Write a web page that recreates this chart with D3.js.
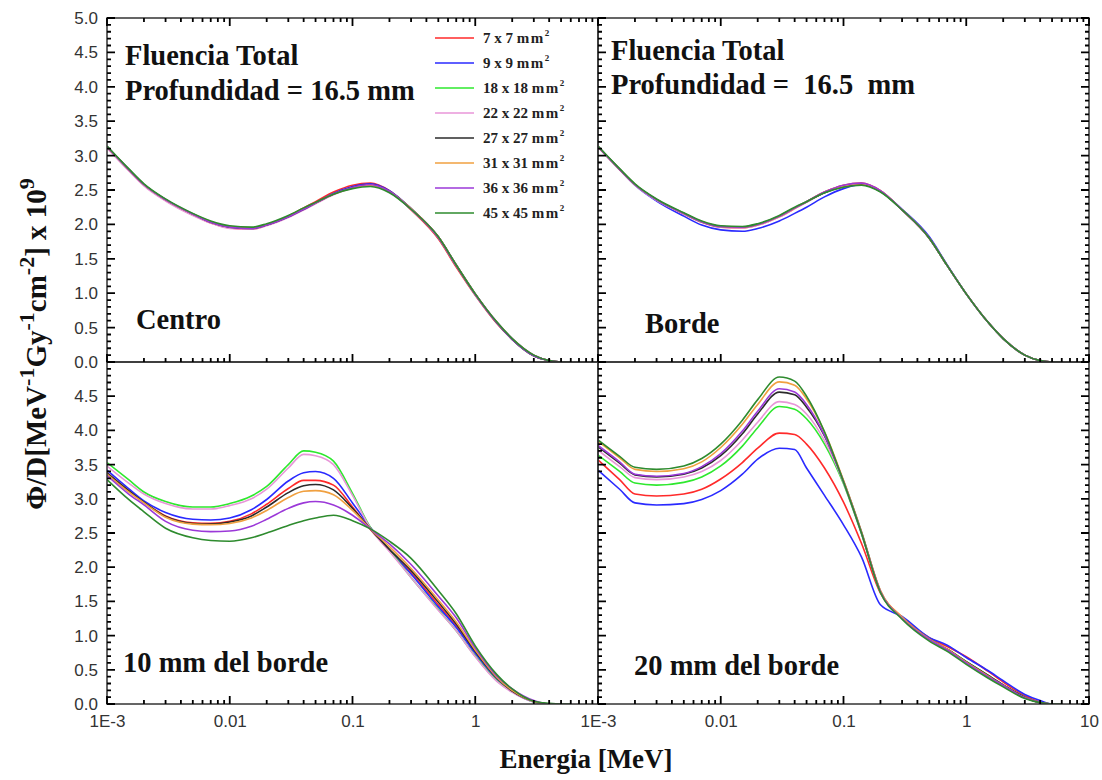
<!DOCTYPE html>
<html>
<head>
<meta charset="utf-8">
<script src="https://cdn.jsdelivr.net/npm/d3@7"></script>
<style>
  body { margin: 0; background: #fff; }
  svg { display: block; }
</style>
</head>
<body>
<div id="chart"></div>
<script>
var energy = [0.001, 0.0015, 0.002, 0.003, 0.005, 0.007, 0.01, 0.015, 0.02, 0.03, 0.04, 0.05, 0.07, 0.1, 0.14, 0.2, 0.3, 0.5, 0.7, 1, 1.5, 2, 3, 4, 5, 6];

var fieldSizes = ["7 x 7", "9 x 9", "18 x 18", "22 x 22", "27 x 27", "31 x 31", "36 x 36", "45 x 45"];
var colors = ["#ff2a2a", "#2a2aff", "#2ee82e", "#e896d8", "#2b2b2b", "#f0a040", "#9b38d8", "#2e8b2e"];

// Centro (arriba izquierda)
var centro = [
  [3.12, 2.79, 2.57, 2.35, 2.14, 2.02, 1.95, 1.93, 1.99, 2.12, 2.24, 2.33, 2.47, 2.57, 2.60, 2.49, 2.21, 1.79, 1.38, 0.97, 0.56, 0.33, 0.09, 0.02, 0, 0],
  [3.13, 2.80, 2.58, 2.36, 2.15, 2.03, 1.96, 1.94, 1.99, 2.11, 2.22, 2.31, 2.45, 2.55, 2.59, 2.49, 2.23, 1.82, 1.41, 0.99, 0.58, 0.34, 0.10, 0.02, 0, 0],
  [3.13, 2.80, 2.58, 2.36, 2.15, 2.04, 1.97, 1.95, 2.00, 2.12, 2.23, 2.31, 2.44, 2.53, 2.57, 2.47, 2.22, 1.81, 1.40, 0.98, 0.57, 0.33, 0.09, 0.02, 0, 0],
  [3.11, 2.78, 2.56, 2.34, 2.13, 2.02, 1.94, 1.93, 1.98, 2.10, 2.21, 2.30, 2.43, 2.53, 2.57, 2.47, 2.22, 1.81, 1.40, 0.98, 0.57, 0.33, 0.09, 0.02, 0, 0],
  [3.13, 2.80, 2.58, 2.36, 2.15, 2.03, 1.96, 1.94, 1.99, 2.11, 2.22, 2.31, 2.44, 2.54, 2.58, 2.48, 2.23, 1.82, 1.41, 0.99, 0.57, 0.33, 0.09, 0.02, 0, 0],
  [3.13, 2.80, 2.58, 2.36, 2.15, 2.04, 1.97, 1.95, 2.00, 2.12, 2.23, 2.31, 2.44, 2.53, 2.57, 2.48, 2.23, 1.82, 1.41, 0.99, 0.58, 0.34, 0.10, 0.02, 0, 0],
  [3.13, 2.80, 2.58, 2.36, 2.15, 2.03, 1.96, 1.94, 1.99, 2.11, 2.22, 2.31, 2.44, 2.54, 2.58, 2.48, 2.22, 1.81, 1.40, 0.98, 0.57, 0.33, 0.09, 0.02, 0, 0],
  [3.14, 2.81, 2.59, 2.37, 2.16, 2.05, 1.98, 1.96, 2.01, 2.13, 2.24, 2.32, 2.44, 2.52, 2.55, 2.46, 2.22, 1.82, 1.41, 0.99, 0.58, 0.34, 0.10, 0.02, 0, 0]
];

// Borde (arriba derecha)
var borde = [
  [3.13, 2.80, 2.58, 2.36, 2.15, 2.03, 1.96, 1.95, 1.99, 2.11, 2.23, 2.33, 2.47, 2.57, 2.60, 2.49, 2.21, 1.80, 1.40, 0.99, 0.58, 0.34, 0.10, 0.02, 0, 0],
  [3.13, 2.80, 2.57, 2.34, 2.12, 1.99, 1.92, 1.90, 1.94, 2.05, 2.16, 2.25, 2.40, 2.52, 2.58, 2.48, 2.22, 1.82, 1.41, 0.99, 0.58, 0.34, 0.10, 0.02, 0, 0],
  [3.13, 2.80, 2.58, 2.36, 2.16, 2.04, 1.97, 1.96, 2.00, 2.12, 2.24, 2.33, 2.46, 2.55, 2.58, 2.48, 2.21, 1.80, 1.40, 0.99, 0.58, 0.34, 0.10, 0.02, 0, 0],
  [3.12, 2.79, 2.57, 2.35, 2.15, 2.03, 1.96, 1.95, 1.99, 2.11, 2.23, 2.32, 2.46, 2.55, 2.58, 2.48, 2.21, 1.80, 1.40, 0.99, 0.58, 0.34, 0.10, 0.02, 0, 0],
  [3.13, 2.80, 2.58, 2.36, 2.16, 2.04, 1.97, 1.96, 2.00, 2.12, 2.24, 2.33, 2.46, 2.55, 2.58, 2.48, 2.21, 1.80, 1.40, 0.99, 0.58, 0.34, 0.10, 0.02, 0, 0],
  [3.13, 2.80, 2.58, 2.36, 2.16, 2.04, 1.97, 1.96, 2.00, 2.12, 2.24, 2.33, 2.47, 2.56, 2.59, 2.49, 2.21, 1.80, 1.40, 0.99, 0.58, 0.34, 0.10, 0.02, 0, 0],
  [3.13, 2.80, 2.58, 2.36, 2.16, 2.04, 1.97, 1.96, 2.00, 2.12, 2.24, 2.33, 2.47, 2.57, 2.60, 2.49, 2.21, 1.80, 1.40, 0.99, 0.58, 0.34, 0.10, 0.02, 0, 0],
  [3.14, 2.81, 2.59, 2.37, 2.17, 2.05, 1.98, 1.97, 2.01, 2.13, 2.25, 2.33, 2.46, 2.54, 2.57, 2.47, 2.21, 1.80, 1.40, 0.99, 0.58, 0.34, 0.10, 0.02, 0, 0]
];

// 10 mm del borde (abajo izquierda)
var borde10 = [
  [3.38, 3.12, 2.95, 2.75, 2.65, 2.64, 2.67, 2.78, 2.92, 3.15, 3.27, 3.27, 3.20, 2.88, 2.55, 2.24, 1.92, 1.45, 1.14, 0.75, 0.37, 0.19, 0.04, 0, 0, 0],
  [3.42, 3.15, 2.97, 2.80, 2.70, 2.69, 2.72, 2.84, 2.99, 3.26, 3.38, 3.40, 3.30, 2.94, 2.58, 2.25, 1.90, 1.42, 1.12, 0.74, 0.36, 0.18, 0.03, 0, 0, 0],
  [3.53, 3.28, 3.10, 2.96, 2.88, 2.88, 2.93, 3.04, 3.18, 3.50, 3.70, 3.68, 3.55, 3.08, 2.58, 2.25, 1.85, 1.38, 1.07, 0.70, 0.34, 0.18, 0.03, 0, 0, 0],
  [3.48, 3.23, 3.07, 2.93, 2.85, 2.85, 2.90, 3.00, 3.14, 3.45, 3.65, 3.63, 3.50, 3.05, 2.57, 2.23, 1.85, 1.37, 1.07, 0.69, 0.33, 0.17, 0.03, 0, 0, 0],
  [3.38, 3.12, 2.95, 2.74, 2.64, 2.63, 2.66, 2.75, 2.88, 3.09, 3.19, 3.21, 3.13, 2.86, 2.56, 2.26, 1.95, 1.49, 1.17, 0.77, 0.38, 0.19, 0.04, 0, 0, 0],
  [3.36, 3.10, 2.94, 2.73, 2.63, 2.62, 2.64, 2.72, 2.83, 3.02, 3.11, 3.12, 3.06, 2.83, 2.56, 2.30, 1.98, 1.52, 1.20, 0.79, 0.39, 0.20, 0.04, 0, 0, 0],
  [3.34, 3.07, 2.91, 2.67, 2.54, 2.52, 2.53, 2.60, 2.70, 2.86, 2.94, 2.96, 2.91, 2.76, 2.56, 2.34, 2.04, 1.58, 1.26, 0.82, 0.41, 0.22, 0.05, 0, 0, 0],
  [3.28, 2.99, 2.81, 2.57, 2.43, 2.39, 2.38, 2.43, 2.50, 2.61, 2.68, 2.72, 2.76, 2.68, 2.56, 2.38, 2.13, 1.66, 1.32, 0.85, 0.43, 0.22, 0.04, 0.01, 0, 0]
];

// 20 mm del borde (abajo derecha)
var borde20 = [
  [3.57, 3.28, 3.07, 3.04, 3.07, 3.14, 3.29, 3.53, 3.74, 3.96, 3.94, 3.80, 3.45, 2.95, 2.35, 1.62, 1.27, 0.97, 0.84, 0.69, 0.48, 0.32, 0.12, 0.03, 0, 0],
  [3.42, 3.14, 2.94, 2.91, 2.93, 2.99, 3.12, 3.36, 3.58, 3.74, 3.72, 3.45, 3.05, 2.62, 2.15, 1.45, 1.28, 0.97, 0.86, 0.68, 0.49, 0.34, 0.14, 0.05, 0, 0],
  [3.64, 3.40, 3.23, 3.20, 3.24, 3.32, 3.48, 3.77, 4.04, 4.35, 4.31, 4.17, 3.80, 3.22, 2.49, 1.64, 1.25, 0.94, 0.80, 0.62, 0.42, 0.28, 0.10, 0.02, 0, 0],
  [3.71, 3.47, 3.31, 3.28, 3.32, 3.40, 3.56, 3.86, 4.12, 4.42, 4.38, 4.24, 3.85, 3.24, 2.50, 1.64, 1.25, 0.94, 0.79, 0.61, 0.41, 0.28, 0.10, 0.02, 0, 0],
  [3.76, 3.52, 3.35, 3.32, 3.36, 3.45, 3.63, 3.95, 4.24, 4.56, 4.52, 4.34, 3.92, 3.26, 2.52, 1.65, 1.26, 0.95, 0.80, 0.62, 0.42, 0.28, 0.10, 0.02, 0, 0],
  [3.84, 3.60, 3.43, 3.40, 3.44, 3.54, 3.75, 4.09, 4.38, 4.71, 4.66, 4.46, 3.98, 3.27, 2.52, 1.66, 1.27, 0.95, 0.80, 0.61, 0.41, 0.27, 0.09, 0.02, 0, 0],
  [3.78, 3.54, 3.36, 3.33, 3.37, 3.47, 3.66, 3.99, 4.28, 4.61, 4.56, 4.38, 3.93, 3.25, 2.50, 1.64, 1.25, 0.94, 0.79, 0.60, 0.40, 0.27, 0.09, 0.02, 0, 0],
  [3.86, 3.62, 3.46, 3.43, 3.48, 3.59, 3.80, 4.15, 4.45, 4.78, 4.72, 4.50, 3.98, 3.25, 2.50, 1.63, 1.24, 0.92, 0.77, 0.58, 0.38, 0.25, 0.08, 0.02, 0, 0]
];

var xMajor = [0.001, 0.01, 0.1, 1, 10];
var xTickLabels = ["1E-3", "0.01", "0.1", "1", "10"];
var yMajor = [0, 0.5, 1, 1.5, 2, 2.5, 3, 3.5, 4, 4.5, 5];

var W = 1102, H = 780;
var x0 = 107, xMid = 598, x1 = 1089;
var y0 = 18, yMid = 362, y1 = 704;

var svg = d3.select("#chart").append("svg")
  .attr("width", W)
  .attr("height", H);

var xL = d3.scaleLog().domain([1e-3, 10]).range([x0, xMid]);
var xR = d3.scaleLog().domain([1e-3, 10]).range([xMid, x1]);
var yT = d3.scaleLinear().domain([0, 5]).range([yMid, y0]);
var yB = d3.scaleLinear().domain([0, 5]).range([y1, yMid]);

// ticks menores (2..9 por decada, cada 0.1 en y)
var xMinor = xL.ticks().filter(v => xMajor.indexOf(v) < 0);
var yMinor = d3.range(0, 50).map(i => i / 10).filter(v => Math.abs(v * 2 - Math.round(v * 2)) > 1e-6);

var panels = [
  {x: xL, y: yT, data: centro, l: x0, r: xMid, t: y0, b: yMid},
  {x: xR, y: yT, data: borde, l: xMid, r: x1, t: y0, b: yMid},
  {x: xL, y: yB, data: borde10, l: x0, r: xMid, t: yMid, b: y1},
  {x: xR, y: yB, data: borde20, l: xMid, r: x1, t: yMid, b: y1}
];

var defs = svg.append("defs");

panels.forEach(function(p, k) {
  defs.append("clipPath").attr("id", "clip" + k)
    .append("rect")
    .attr("x", p.l).attr("y", p.t)
    .attr("width", p.r - p.l).attr("height", p.b - p.t);

  var line = d3.line()
    .x((d, i) => p.x(energy[i]))
    .y(d => p.y(d))
    .curve(d3.curveMonotoneX);

  svg.append("g")
    .attr("clip-path", "url(#clip" + k + ")")
    .selectAll("path")
    .data(p.data)
    .enter()
    .append("path")
    .attr("d", line)
    .attr("fill", "none")
    .attr("stroke", (d, i) => colors[i])
    .attr("stroke-width", 1.6);
});

// marcos
panels.forEach(function(p) {
  svg.append("rect")
    .attr("x", p.l).attr("y", p.t)
    .attr("width", p.r - p.l).attr("height", p.b - p.t)
    .attr("fill", "none")
    .attr("stroke", "#333")
    .attr("stroke-width", 1.5);
});

// marcas de los ejes, hacia dentro
function vTicks(y, vals, x, dir, len) {
  svg.append("path")
    .attr("d", vals.map(v => "M" + x + "," + y(v) + "h" + (dir * len)).join(""))
    .attr("fill", "none")
    .attr("stroke", "#000")
    .attr("stroke-width", 1.8);
}
function hTicks(x, vals, y, dir, len) {
  svg.append("path")
    .attr("d", vals.map(v => "M" + x(v) + "," + y + "v" + (dir * len)).join(""))
    .attr("fill", "none")
    .attr("stroke", "#000")
    .attr("stroke-width", 1.8);
}

[yT, yB].forEach(function(y) {
  vTicks(y, yMajor, x0, 1, 8);
  vTicks(y, yMinor, x0, 1, 4);
  vTicks(y, yMajor, xMid, 1, 8);
  vTicks(y, yMinor, xMid, 1, 4);
  vTicks(y, yMajor, x1, -1, 8);
  vTicks(y, yMinor, x1, -1, 4);
});
[xL, xR].forEach(function(x) {
  hTicks(x, xMajor, y0, 1, 8);
  hTicks(x, xMinor, y0, 1, 4);
  hTicks(x, xMajor, yMid, -1, 8);
  hTicks(x, xMinor, yMid, -1, 4);
  hTicks(x, xMajor, y1, -1, 8);
  hTicks(x, xMinor, y1, -1, 4);
});

// etiquetas de los ejes
function labelAxis(axis, tx, ty) {
  var g = svg.append("g")
    .attr("transform", "translate(" + tx + "," + ty + ")")
    .call(axis.tickSize(0));
  g.select(".domain").remove();
  g.selectAll(".tick line").remove();
  g.selectAll(".tick text")
    .attr("fill", "#333")
    .style("font-size", "17px")
    .style("font-family", "'Liberation Sans', Arial, sans-serif");
}

var yFmt = d3.format(".1f");
labelAxis(d3.axisLeft(yT).tickValues(yMajor).tickFormat(yFmt).tickPadding(9), x0, 0);
labelAxis(d3.axisLeft(yB).tickValues(yMajor.slice(0, 10)).tickFormat(yFmt).tickPadding(9), x0, 0);
labelAxis(d3.axisBottom(xL).tickValues(xMajor.slice(0, 4))
  .tickFormat(v => xTickLabels[xMajor.indexOf(v)]).tickPadding(11), 0, y1);
labelAxis(d3.axisBottom(xR).tickValues(xMajor)
  .tickFormat(v => xTickLabels[xMajor.indexOf(v)]).tickPadding(11), 0, y1);

// textos de los paneles
var serif = "'Liberation Serif', 'Times New Roman', serif";
function label(txt, x, y) {
  return svg.append("text")
    .attr("x", x).attr("y", y)
    .style("font-family", serif)
    .style("font-weight", "bold")
    .style("font-size", "28.5px")
    .style("white-space", "pre")
    .attr("fill", "#111")
    .text(txt);
}
label("Fluencia Total", 125, 65);
label("Profundidad = 16.5 mm", 125, 100);
label("Fluencia Total", 611, 60);
label("Profundidad =  16.5  mm", 611, 94);
label("Centro", 136, 329);
label("Borde", 645, 333);
label("10 mm del borde", 123, 672);
label("20 mm del borde", 634, 675);

// leyenda
var legend = svg.append("g").attr("transform", "translate(435,38)");
var items = legend.selectAll("g")
  .data(fieldSizes)
  .enter()
  .append("g")
  .attr("transform", (d, i) => "translate(0," + i * 25 + ")");
items.append("line")
  .attr("x1", 0).attr("x2", 39)
  .attr("stroke", (d, i) => colors[i])
  .attr("stroke-width", 1.6);
var lt = items.append("text")
  .attr("x", 48).attr("y", 5)
  .style("font-family", serif)
  .style("font-weight", "bold")
  .style("font-size", "15px")
  .style("white-space", "pre")
  .attr("fill", "#222");
lt.append("tspan").text(d => d + " ");
lt.append("tspan").style("letter-spacing", "1.5px").text("mm");
lt.append("tspan").attr("dy", -7).style("font-size", "9px").text("2");

// titulos de ejes
svg.append("text")
  .attr("x", 586).attr("y", 768)
  .attr("text-anchor", "middle")
  .style("font-family", serif)
  .style("font-weight", "bold")
  .style("font-size", "27px")
  .attr("fill", "#111")
  .text("Energia [MeV]");

var yt = svg.append("text")
  .attr("transform", "translate(46,344) rotate(-90)")
  .attr("text-anchor", "middle")
  .style("font-family", serif)
  .style("font-weight", "bold")
  .style("font-size", "29px")
  .attr("fill", "#111");
yt.append("tspan").text("Φ/D[MeV");
yt.append("tspan").attr("dy", -12).style("font-size", "22px").text("-1");
yt.append("tspan").attr("dy", 12).text("Gy");
yt.append("tspan").attr("dy", -12).style("font-size", "22px").text("-1");
yt.append("tspan").attr("dy", 12).text("cm");
yt.append("tspan").attr("dy", -12).style("font-size", "22px").text("-2");
yt.append("tspan").attr("dy", 12).text("] x 10");
yt.append("tspan").attr("dy", -12).style("font-size", "22px").text("9");
</script>
</body>
</html>
